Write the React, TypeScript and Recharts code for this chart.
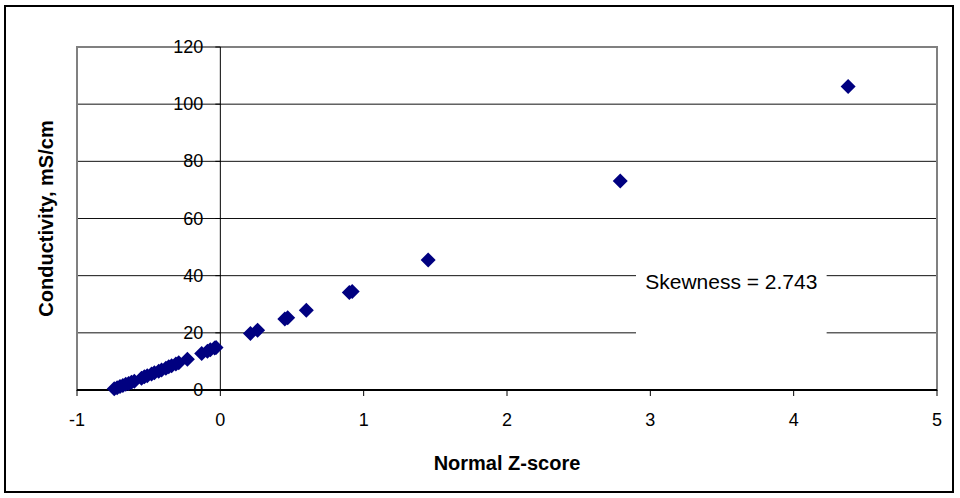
import {
  ScatterChart,
  Scatter,
  XAxis,
  YAxis,
  CartesianGrid,
  ReferenceLine,
  ReferenceArea,
} from "recharts";

// normal z-score vs measured conductivity (mS/cm)
const zScores = [
  -0.74, -0.72, -0.7, -0.68, -0.66, -0.64, -0.62, -0.6, -0.55, -0.53, -0.51,
  -0.48, -0.46, -0.43, -0.41, -0.38, -0.36, -0.34, -0.31, -0.29, -0.23, -0.13,
  -0.09, -0.07, -0.04, -0.03, 0.21, 0.26, 0.45, 0.47, 0.6, 0.9, 0.92, 1.45,
  2.79, 4.38,
];
const conductivity = [
  0.4, 0.8, 1.2, 1.6, 2.0, 2.3, 2.7, 3.1, 4.1, 4.6, 5.0, 5.6, 6.0, 6.6, 7.0,
  7.6, 8.1, 8.5, 9.1, 9.5, 10.8, 12.8, 13.6, 14.1, 14.7, 14.9, 19.8, 20.9, 24.8,
  25.3, 27.9, 34.1, 34.5, 45.5, 73.1, 106.2,
];
const xTicks = [-1, 0, 1, 2, 3, 4, 5];
const yTicks = [0, 20, 40, 60, 80, 100, 120];
const skewLabel = "Skewness = 2.743";
// text box in data units
const skewBoxX = [2.9, 4.23];
const skewBoxY = [15.7, 44.8];

const points = zScores.map((z, i) => ({ z, c: conductivity[i] }));

const W = 960;
const H = 498;
const MARGIN = { top: 47, right: 23, left: 10, bottom: 28 };
const Y_AXIS_W = 67;
const X_AXIS_H = 80;
const PLOT_W = W - MARGIN.left - MARGIN.right - Y_AXIS_W;
const X_MIN = xTicks[0];
const X_MAX = xTicks[xTicks.length - 1];
// y axis crosses at x = 0, not at the plot's left edge
const Y_CROSS = (PLOT_W * (0 - X_MIN)) / (X_MAX - X_MIN);

const FONT = "'Liberation Sans', Arial, sans-serif";

function YTick(props: any) {
  const { x, y, payload } = props;
  const ax = x + Y_CROSS;
  return (
    <g>
      <line x1={ax - 5} x2={ax} y1={y} y2={y} stroke="#000" />
      <text
        x={ax - 17}
        y={y}
        textAnchor="end"
        dominantBaseline="central"
        fontSize={18}
        fontFamily={FONT}
        fill="#000"
      >
        {payload.value}
      </text>
    </g>
  );
}

function Diamond(props: any) {
  const { cx, cy } = props;
  const r = 7.5;
  return (
    <polygon
      points={`${cx},${cy - r} ${cx + r},${cy} ${cx},${cy + r} ${cx - r},${cy}`}
      fill="#000080"
    />
  );
}

export default function App() {
  return (
    <div
      style={{
        position: "absolute",
        left: 0,
        top: 0,
        width: W,
        height: H,
        background: "#fff",
        fontFamily: FONT,
      }}
    >
      <ScatterChart width={W} height={H} margin={MARGIN}>
        <CartesianGrid vertical={false} stroke="#111" strokeOpacity={1} />
        <ReferenceArea
          x1={X_MIN}
          x2={X_MAX}
          y1={0}
          y2={120}
          fill="none"
          stroke="#808080"
          strokeWidth={2}
          ifOverflow="visible"
        />
        <ReferenceArea
          x1={skewBoxX[0]}
          x2={skewBoxX[1]}
          y1={skewBoxY[0]}
          y2={skewBoxY[1]}
          fill="#fff"
          fillOpacity={1}
          stroke="none"
          label={{
            value: skewLabel,
            position: "insideTop",
            offset: 12,
            fontSize: 21,
            fill: "#000",
            fontFamily: FONT,
          }}
        />
        <ReferenceLine x={0} stroke="#000" strokeWidth={1} />
        <XAxis
          type="number"
          dataKey="z"
          domain={[X_MIN, X_MAX]}
          ticks={xTicks}
          height={X_AXIS_H}
          axisLine={{ stroke: "#000", strokeWidth: 2 }}
          tickLine={{ stroke: "#000" }}
          tickSize={6}
          tickMargin={17}
          tick={{ fontSize: 18, fill: "#000", fontFamily: FONT }}
          label={{
            value: "Normal Z-score",
            position: "insideBottom",
            offset: 0,
            fontSize: 20,
            fontWeight: "bold",
            fill: "#000",
            fontFamily: FONT,
          }}
        />
        <YAxis
          type="number"
          dataKey="c"
          domain={[0, 120]}
          ticks={yTicks}
          width={Y_AXIS_W}
          axisLine={false}
          tickLine={false}
          tickSize={0}
          tickMargin={0}
          tick={<YTick />}
          label={{
            value: "Conductivity, mS/cm",
            angle: -90,
            position: "center",
            dx: 2,
            fontSize: 20,
            fontWeight: "bold",
            fill: "#000",
            fontFamily: FONT,
          }}
        />
        <Scatter data={points} shape={<Diamond />} isAnimationActive={false} />
      </ScatterChart>
      <div
        style={{
          position: "absolute",
          left: 4,
          top: 5,
          width: 950,
          height: 488,
          border: "2px solid #000",
          boxSizing: "border-box",
          pointerEvents: "none",
        }}
      />
    </div>
  );
}
